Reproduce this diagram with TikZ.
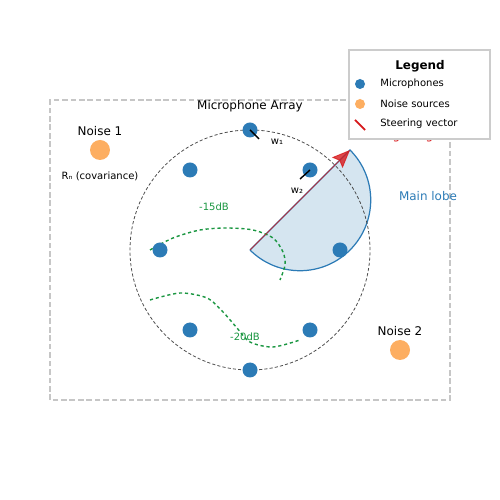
\documentclass[tikz,border=0pt]{standalone}
\usepackage{fontspec}
\setmainfont{DejaVu Sans}
\usetikzlibrary{arrows.meta}
\definecolor{micblue}{HTML}{2C7BB6}
\definecolor{noiseorange}{HTML}{FDAE61}
\definecolor{dbgreen}{HTML}{1A9641}
\definecolor{steerred}{HTML}{D7191C}
\begin{document}
\begin{tikzpicture}[
        mic/.style={circle, fill=micblue, inner sep=0pt, minimum size=0.3cm},
        noise/.style={circle, fill=noiseorange, inner sep=0pt, minimum size=0.4cm},
        lbl/.style={inner sep=0pt, font=\fontsize{6.8}{8}\selectfont},
        small/.style={inner sep=0pt, font=\fontsize{5.7}{7}\selectfont},
        dbline/.style={dbgreen, line width=0.8pt, dash pattern=on 1.8pt off 1.6pt}
    ]
    \useasboundingbox (-5,-5) rectangle (5,5);
    \draw[gray!45, line width=0.9pt, dash pattern=on 3.2pt off 1.6pt] (-4,-3) rectangle (4,3);
    \node[lbl] (title) at (0,2.88) {Microphone Array};
    \coordinate (apex) at (0,0);
    \coordinate (tip) at (2,2);
    \draw[micblue, line width=0.7pt, fill=micblue!20] (apex) -- (tip) arc[start angle=45, end angle=-135, radius=1.4142] -- cycle;
    \draw[black!70, line width=0.45pt, dash pattern=on 1.8pt off 1.2pt] (0,0) circle (2.4);
    \draw[dbline] plot[smooth] coordinates {(-2,0) (-1.54,0.24) (-1,0.4) (-0.46,0.44) (0.06,0.4) (0.46,0.24) (0.66,-0.04) (0.7,-0.3) (0.6,-0.6)};
    \draw[dbline] plot[smooth] coordinates {(-2,-1) (-1.4,-0.86) (-0.86,-0.96) (-0.54,-1.24) (-0.26,-1.56) (0,-1.84) (0.46,-1.94) (1,-1.8)};
    \node[small, text=dbgreen] (db15) at (-0.72,0.86) {-15dB};
    \node[small, text=dbgreen] (db20) at (-0.1,-1.74) {-20dB};
    \draw[steerred, opacity=0.8, line width=0.5pt, -{Stealth[length=0.36cm, width=0.3cm, inset=0.06cm]}] (apex) -- (tip);
    \node[lbl, text=micblue] (lobe) at (3.56,1.08) {Main lobe};
    \node[mic] (m1) at (0,2.4) {};
    \node[mic] (m2) at (1.2,1.6) {};
    \node[mic] (m3) at (1.8,0) {};
    \node[mic] (m4) at (1.2,-1.6) {};
    \node[mic] (m5) at (0,-2.4) {};
    \node[mic] (m6) at (-1.2,-1.6) {};
    \node[mic] (m7) at (-1.8,0) {};
    \node[mic] (m8) at (-1.2,1.6) {};
    \coordinate (w1end) at (0.18,2.22);
    \coordinate (w2end) at (1.0,1.42);
    \draw[black, line width=0.8pt] (m1.center) -- (w1end);
    \draw[black, line width=0.8pt] (m2.center) -- (w2end);
    \node[small] (w1) at (0.54,2.16) {w₁};
    \node[small] (w2) at (0.94,1.18) {w₂};
    \node[noise] (n1) at (-3,2) {};
    \node[lbl] (n1lbl) at (-3,2.38) {Noise 1};
    \node[small] (cov) at (-3,1.48) {Rₙ (covariance)};
    \node[noise] (n2) at (3,-2) {};
    \node[lbl] (n2lbl) at (3,-1.62) {Noise 2};
    \node[lbl, anchor=base west, text=steerred] (target) at (2.5,2.2) {Target signal};
    % legend
    \draw[gray!40, fill=white, line width=0.8pt] (1.98,4) rectangle (4.8,2.22);
    \node[inner sep=0pt, font=\fontsize{6.8}{8}\selectfont\bfseries] (legtitle) at (3.4,3.68) {Legend};
    \node[mic, minimum size=0.2cm] (legmic) at (2.2,3.32) {};
    \node[noise, minimum size=0.2cm] (legnoise) at (2.2,2.92) {};
    \coordinate (legA) at (2.1,2.6);
    \coordinate (legB) at (2.3,2.4);
    \draw[steerred, line width=1pt] (legA) -- (legB);
    \node[small, anchor=west] (legmictxt) at (2.6,3.32) {Microphones};
    \node[small, anchor=west] (legnoisetxt) at (2.6,2.92) {Noise sources};
    \node[small, anchor=west] (legsteertxt) at (2.6,2.52) {Steering vector};
\end{tikzpicture}
\end{document}
